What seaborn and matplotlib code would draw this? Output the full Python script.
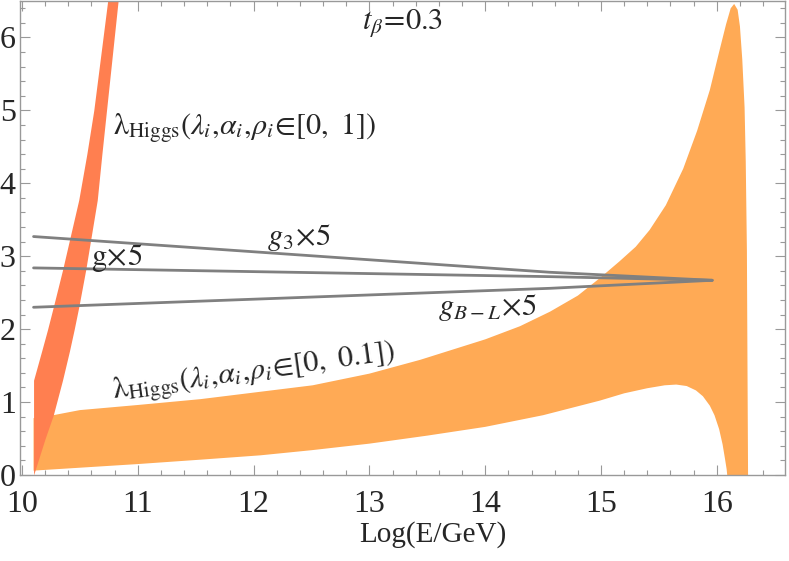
import numpy as np
import pandas as pd
import matplotlib
matplotlib.use('Agg')
import matplotlib.pyplot as plt
import seaborn as sns
from matplotlib.ticker import MultipleLocator

# red band: lambda_Higgs for lambda_i, alpha_i, rho_i in [0, 1]  (x as function of y)
red_y = [0.0, 0.50, 0.82, 1.30, 1.70, 1.99, 2.30, 2.81, 3.29, 3.77, 4.40, 5.00, 5.75, 6.50]
red_left = [10.10, 10.10, 10.10, 10.10, 10.17, 10.22, 10.27, 10.35, 10.42, 10.49,
            10.56, 10.62, 10.68, 10.74]
red_right = [10.10, 10.20, 10.27, 10.35, 10.41, 10.45, 10.49, 10.55, 10.60, 10.65,
             10.69, 10.73, 10.78, 10.83]

# orange band: lambda_Higgs for lambda_i, alpha_i, rho_i in [0, 0.1]
orange_up_E = [10.10, 10.27, 10.50, 11.00, 11.54, 12.00, 12.51, 13.00, 13.44, 14.00,
               14.30, 14.56, 14.80, 14.99, 15.16, 15.30, 15.42, 15.56, 15.71, 15.83,
               15.94, 16.02, 16.08, 16.12, 16.15, 16.18, 16.20, 16.22, 16.24, 16.25,
               16.26, 16.265, 16.27]
orange_up_y = [0.78, 0.82, 0.89, 0.96, 1.04, 1.13, 1.23, 1.39, 1.58, 1.86,
               2.04, 2.24, 2.46, 2.70, 2.93, 3.13, 3.36, 3.70, 4.20, 4.72,
               5.28, 5.80, 6.18, 6.40, 6.46, 6.38, 6.15, 5.70, 5.04, 4.30,
               3.08, 1.50, 0.0]
orange_lo_E = [10.10, 10.50, 11.00, 11.54, 12.06, 12.50, 13.00, 13.50, 14.00, 14.50,
               14.99, 15.20, 15.40, 15.55, 15.65, 15.74, 15.82, 15.88, 15.94, 15.98,
               16.02, 16.05, 16.07, 16.085, 16.09]
orange_lo_y = [0.06, 0.10, 0.15, 0.21, 0.27, 0.34, 0.43, 0.54, 0.66, 0.82,
               1.02, 1.12, 1.19, 1.23, 1.24, 1.22, 1.16, 1.08, 0.95, 0.82,
               0.63, 0.42, 0.23, 0.08, 0.0]

# gauge couplings x5
line_E = [10.10, 14.56, 15.96]
g3 = [3.27, 2.78, 2.67]
g = [2.84, 2.72, 2.67]
gBL = [2.30, 2.56, 2.67]

sns.set_theme(style="ticks")
plt.rcParams['font.family'] = ['Liberation Serif', 'DejaVu Serif']
plt.rcParams['mathtext.fontset'] = 'stix'

fig = plt.figure(figsize=(7.89, 5.61), dpi=100)
ax = fig.add_axes([20 / 789, 86 / 561, 765 / 789, 474 / 561])

ax.fill(np.r_[orange_up_E, orange_lo_E[::-1]], np.r_[orange_up_y, orange_lo_y[::-1]],
        color='#FFAA55', lw=0, zorder=1)
ax.fill_betweenx(red_y, red_left, red_right, color='#FF7F50', lw=0, zorder=2)

lines = pd.DataFrame({'E': line_E * 3, 'val': g3 + g + gBL,
                      'name': ['g3'] * 3 + ['g'] * 3 + ['gBL'] * 3})
sns.lineplot(data=lines, x='E', y='val', units='name', estimator=None,
             color='#808080', lw=2.0, ax=ax, zorder=3)

ax.set_xlim(9.983, 16.589)
ax.set_ylim(0, 6.5)
ax.xaxis.set_major_locator(MultipleLocator(1))
ax.xaxis.set_minor_locator(MultipleLocator(0.2))
ax.yaxis.set_major_locator(MultipleLocator(1))
ax.yaxis.set_minor_locator(MultipleLocator(0.2))
ax.tick_params(which='both', direction='in', top=True, right=True, color='#999999',
               labelsize=23, width=0.8)
ax.tick_params(which='major', length=7)
ax.tick_params(which='minor', length=3.5)
ax.tick_params(axis='x', pad=10.5)
ax.tick_params(axis='y', pad=3)
for s in ax.spines.values():
    s.set_color('#999999')
    s.set_linewidth(1.0)

ax.set_ylabel('')
ax.set_xlabel('Log(E/GeV)', fontsize=21)
ax.xaxis.set_label_coords(0.539, -0.14)
ax.xaxis.label.set_va('baseline')

ax.text(13.29, 6.2, r'$t_{\beta}\!=\!0.3$', fontsize=22, ha='center', va='center')
ax.text(10.79, 4.68, r'$\mathrm{\lambda}_{\mathrm{Higgs}}(\lambda_i,\!\alpha_i,\!\rho_i\!\in\![0,\ 1])$',
        fontsize=21.7, ha='left', va='baseline')
ax.text(12.12, 3.15, r'$g_3\!\times\!5$', fontsize=22, ha='left', va='baseline')
ax.text(10.60, 2.88, r'$\mathrm{g}\!\times\!5$', fontsize=22, ha='left', va='baseline')
ax.text(13.59, 2.19, r'$g_{B-L}\!\times\!5$', fontsize=22, ha='left', va='baseline')
ax.text(10.79, 1.05, r'$\mathrm{\lambda}_{\mathrm{Higgs}}(\lambda_i,\!\alpha_i,\!\rho_i\!\in\![0,\ 0.1])$',
        fontsize=21.7, ha='left', va='baseline', rotation=7.8, rotation_mode='anchor')

fig.savefig('out.png', dpi=100)
